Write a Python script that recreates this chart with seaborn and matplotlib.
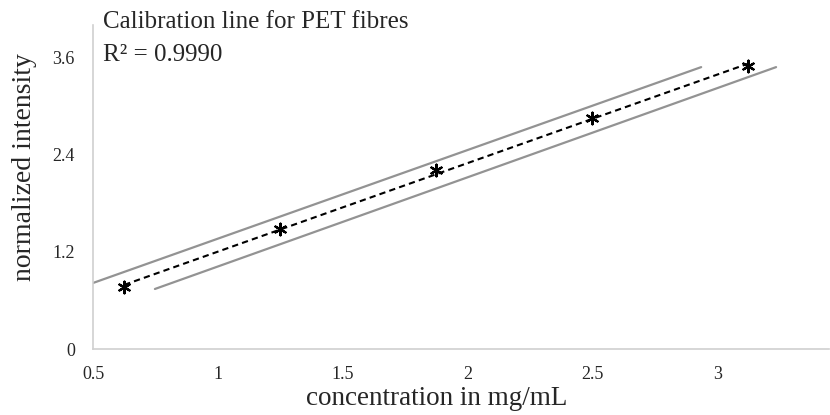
import matplotlib
matplotlib.use("Agg")
import matplotlib.pyplot as plt
import seaborn as sns
import numpy as np
import pandas as pd

# Data
conc = [0.625, 1.25, 1.875, 2.5, 3.125]
intensity = [0.76, 1.48, 2.21, 2.85, 3.49]
upper_x = [0.5, 2.936]
upper_y = [0.815, 3.48]
lower_x = [0.748, 3.236]
lower_y = [0.741, 3.48]
x_ticks = [0.5, 1, 1.5, 2, 2.5, 3]
x_tick_labels = ["0.5", "1", "1.5", "2", "2.5", "3"]
y_ticks = [0, 1.2, 2.4, 3.6]
y_tick_labels = ["0", "1.2", "2.4", "3.6"]
title_text = "Calibration line for PET fibres"
r2_text = "R\u00b2 = 0.9990"

sns.set_theme(style="white")
plt.rcParams['font.family'] = ['Liberation Serif', 'DejaVu Serif']

fig = plt.figure(figsize=(8.3, 4.15), dpi=100)
ax = fig.add_axes([93/830, 1-349/415, (829-93)/830, (349-25)/415])

df = pd.DataFrame({"x": conc, "y": intensity})
slope, icpt = np.polyfit(conc, intensity, 1)
fit_df = pd.DataFrame({"x": [conc[0], conc[-1]],
                       "y": [slope*conc[0]+icpt, slope*conc[-1]+icpt]})

sns.lineplot(data=pd.DataFrame({"x": upper_x, "y": upper_y}), x="x", y="y",
             ax=ax, color="#939393", lw=1.6)
sns.lineplot(data=pd.DataFrame({"x": lower_x, "y": lower_y}), x="x", y="y",
             ax=ax, color="#939393", lw=1.6)
sns.lineplot(data=fit_df, x="x", y="y", ax=ax, color="black", lw=1.5,
             linestyle=(0, (3, 2)))
sns.scatterplot(data=df, x="x", y="y", ax=ax, marker=(6, 2, 0), s=70,
                color="black", linewidth=1.6, edgecolor="black", zorder=5)

ax.set_xlim(0.5, 3.448)
ax.set_ylim(0, 4.0)
ax.set_xticks(x_ticks)
ax.set_xticklabels(x_tick_labels, fontsize=13)
ax.set_yticks(y_ticks)
ax.set_yticklabels(y_tick_labels, fontsize=13)
ax.tick_params(axis="both", length=0)
ax.tick_params(axis="x", pad=12)
ax.tick_params(axis="y", pad=13)

for s in ["top", "right"]:
    ax.spines[s].set_visible(False)
for s in ["left", "bottom"]:
    ax.spines[s].set_color("#d0d0d0")
    ax.spines[s].set_linewidth(1.2)

ax.set_xlabel("concentration in mg/mL", fontsize=19.5, labelpad=4)
ax.xaxis.set_label_coords(0.467, -0.115)
ax.set_ylabel("normalized intensity", fontsize=20, labelpad=6)
ax.yaxis.set_label_coords(-0.076, 0.56)

fig.text(103/830, 1-22/415, title_text, fontsize=18, va="center", ha="left")
fig.text(103/830, 1-55/415, r2_text, fontsize=18, va="center", ha="left")

fig.savefig("out.png", dpi=100)
